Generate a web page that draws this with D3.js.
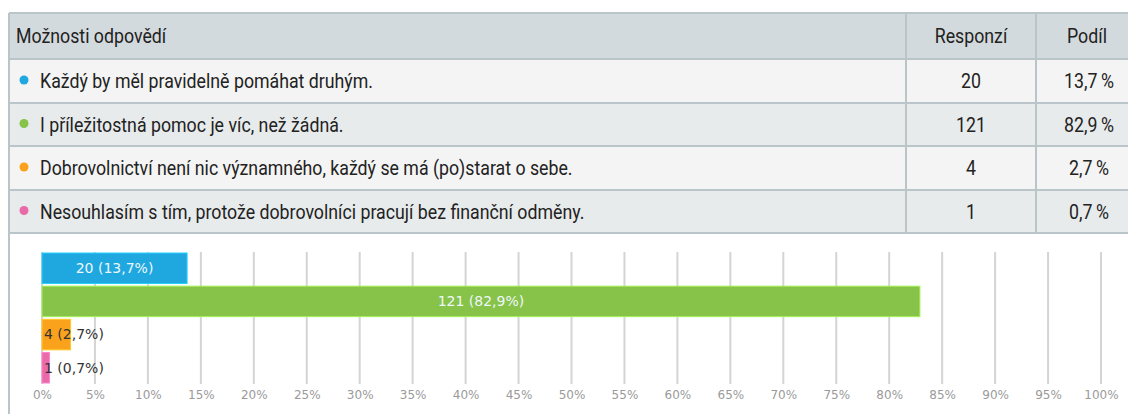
<!DOCTYPE html>
<html>
<head>
<meta charset="utf-8">
<script src="https://cdn.jsdelivr.net/npm/d3@7"></script>
<style>
  html, body { margin: 0; padding: 0; background: #fff; }
  svg { display: block; }
</style>
</head>
<body>
<svg id="chart" width="1128" height="414"></svg>
<script>
// answers, counts, shares
const answers = [
  'Každý by měl pravidelně pomáhat druhým.',
  'I příležitostná pomoc je víc, než žádná.',
  'Dobrovolnictví není nic významného, každý se má (po)starat o sebe.',
  'Nesouhlasím s tím, protože dobrovolníci pracují bez finanční odměny.'
];
const counts = [20, 121, 4, 1];
const shares = [13.7, 82.9, 2.7, 0.7];
const colors = ['#1fa8e0', '#86c348', '#fba21d', '#ea6aa7'];
const headers = ['Možnosti odpovědí', 'Responzí', 'Podíl'];
const ticks = d3.range(0, 101, 5);

const fmt = v => d3.format('.1f')(v).replace('.', ',');

const svg = d3.select('#chart');

// ---- table ----
const tableFont = '"Liberation Sans Narrow", "Arial Narrow", "Roboto", sans-serif';
const colX = [9, 906, 1036, 1150];
const rowY = [13, 59, 103, 146, 190, 233];
const rowFill = ['#d3dadd', '#f4f4f4', '#e8ebec', '#f4f4f4', '#e8ebec'];
const borderColor = '#b9c5c9';

const table = svg.append('g').attr('class', 'table');

table.selectAll('rect.row')
  .data(rowFill)
  .enter().append('rect')
    .attr('class', 'row')
    .attr('x', colX[0])
    .attr('y', (d, i) => rowY[i])
    .attr('width', colX[3] - colX[0])
    .attr('height', (d, i) => rowY[i + 1] - rowY[i])
    .attr('fill', d => d);

// horizontal borders
table.selectAll('line.h')
  .data(rowY)
  .enter().append('line')
    .attr('class', 'h')
    .attr('x1', colX[0]).attr('x2', colX[3])
    .attr('y1', d => d).attr('y2', d => d)
    .attr('stroke', borderColor).attr('stroke-width', 2);

// vertical borders
table.selectAll('line.v')
  .data(colX.slice(0, 3))
  .enter().append('line')
    .attr('class', 'v')
    .attr('x1', d => d).attr('x2', d => d)
    .attr('y1', rowY[0]).attr('y2', rowY[5])
    .attr('stroke', borderColor).attr('stroke-width', 2);

const mid = i => (rowY[i] + rowY[i + 1]) / 2;

// header text
table.append('text')
  .attr('class', 'ttxt')
  .attr('x', 16).attr('y', mid(0))
  .attr('dy', '0.35em')
  .text(headers[0]);
table.selectAll('text.hnum')
  .data(headers.slice(1))
  .enter().append('text')
    .attr('class', 'ttxt hnum')
    .attr('x', (d, i) => i === 0 ? (colX[1] + colX[2]) / 2 : 1087)
    .attr('y', mid(0))
    .attr('dy', '0.35em')
    .attr('text-anchor', 'middle')
    .text(d => d);

const rows = table.selectAll('g.r')
  .data(answers)
  .enter().append('g')
    .attr('class', 'r');

rows.append('circle')
  .attr('cx', 24)
  .attr('cy', (d, i) => mid(i + 1) - 1)
  .attr('r', 4.5)
  .attr('fill', (d, i) => colors[i]);

rows.append('text')
  .attr('class', 'ttxt lbl')
  .attr('x', 40).attr('y', (d, i) => mid(i + 1))
  .attr('dy', '0.35em')
  .text(d => d);

rows.append('text')
  .attr('class', 'ttxt')
  .attr('x', (colX[1] + colX[2]) / 2).attr('y', (d, i) => mid(i + 1))
  .attr('dy', '0.35em')
  .attr('text-anchor', 'middle')
  .text((d, i) => counts[i]);

rows.append('text')
  .attr('class', 'ttxt')
  .attr('x', 1089).attr('y', (d, i) => mid(i + 1))
  .attr('dy', '0.35em')
  .attr('text-anchor', 'middle')
  .text((d, i) => fmt(shares[i]) + '\u2009%');

table.selectAll('text.ttxt')
  .attr('font-family', tableFont)
  .attr('font-size', 21)
  .attr('fill', '#222');

// squeeze the table font so the first answer is as wide as in the source
const natural = table.select('text.lbl').node().getComputedTextLength();
const squeeze = 333 / natural;
table.selectAll('text.ttxt').each(function () {
  const w = this.getComputedTextLength();
  d3.select(this)
    .attr('textLength', w * squeeze)
    .attr('lengthAdjust', 'spacingAndGlyphs');
});

// left border of the panel continues under the table
svg.append('line')
  .attr('x1', colX[0]).attr('x2', colX[0])
  .attr('y1', rowY[5]).attr('y2', 414)
  .attr('stroke', borderColor).attr('stroke-width', 2);

// ---- bar chart ----
const x = d3.scaleLinear().domain([0, 100]).range([42, 1101]);
const y = d3.scaleBand().domain(answers).range([253, 383]).paddingInner(0.08);

const chart = svg.append('g').attr('class', 'bars');

chart.selectAll('line.grid')
  .data(ticks)
  .enter().append('line')
    .attr('class', 'grid')
    .attr('x1', d => x(d)).attr('x2', d => x(d))
    .attr('y1', 252).attr('y2', 384)
    .attr('stroke', '#d4d4d4').attr('stroke-width', 2);

const xAxis = d3.axisBottom(x)
  .tickValues(ticks)
  .tickSize(0)
  .tickPadding(0)
  .tickFormat(d => d + '%');

chart.append('g')
  .attr('transform', 'translate(0,390)')
  .call(xAxis)
  .call(g => g.select('.domain').remove())
  .call(g => g.selectAll('text')
    .attr('font-family', '"DejaVu Sans", Verdana, sans-serif')
    .attr('font-size', 12)
    .attr('fill', '#9a9a9a'));

chart.selectAll('rect.bar')
  .data(answers)
  .enter().append('rect')
    .attr('class', 'bar')
    .attr('x', x(0))
    .attr('y', d => y(d))
    .attr('width', (d, i) => x(shares[i]) - x(0))
    .attr('height', y.bandwidth())
    .attr('fill', (d, i) => colors[i])
    .attr('stroke', (d, i) => d3.color(colors[i]).brighter(0.6))
    .attr('stroke-width', 1);

chart.selectAll('text.val')
  .data(answers)
  .enter().append('text')
    .attr('class', 'val')
    .attr('x', (d, i) => {
      const w = x(shares[i]) - x(0);
      return w > 60 ? x(0) + w / 2 : x(0) + 2;
    })
    .attr('y', d => y(d) + y.bandwidth() / 2)
    .attr('dy', '0.35em')
    .attr('text-anchor', (d, i) => x(shares[i]) - x(0) > 60 ? 'middle' : 'start')
    .attr('font-family', '"DejaVu Sans", Verdana, sans-serif')
    .attr('font-size', 14)
    .attr('fill', (d, i) => x(shares[i]) - x(0) > 60 ? '#eef7fc' : '#333')
    .text((d, i) => `${counts[i]} (${fmt(shares[i])}%)`);
</script>
</body>
</html>
